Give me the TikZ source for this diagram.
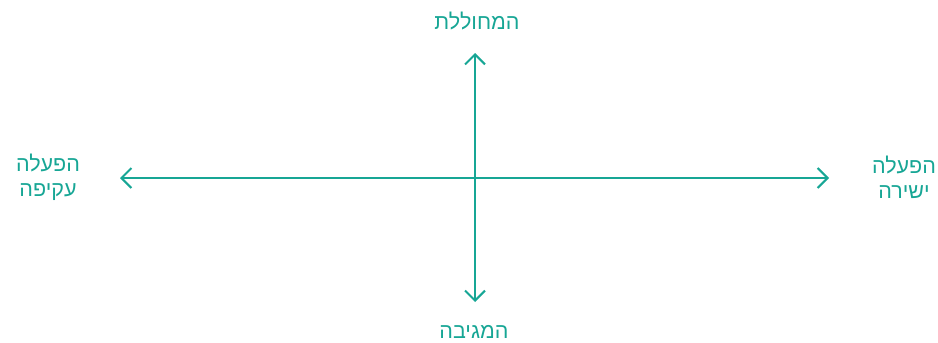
\documentclass[tikz,border=0pt]{standalone}
\usepackage{fontspec}
\usepackage{xcolor}
\usepackage{tikz}
\usetikzlibrary{positioning, arrows.meta}
\TeXXeTstate=1
\newfontfamily\hebfont[Script=Hebrew]{Liberation Sans}
\definecolor{axisteal}{RGB}{23, 166, 149}

\begin{document}
\begin{tikzpicture}[x=1pt, y=-1pt,
    axisline/.style={{Straight Barb[length=10pt, width=20pt]}-{Straight Barb[length=10pt, width=20pt]}, line width=2pt, color=axisteal},
    axislabel/.style={font=\hebfont\fontsize{21.5}{25}\selectfont, color=axisteal, align=center, inner sep=0pt}]

  % Moldura da figura
  \useasboundingbox (0,0) rectangle (938,343);

  % --- Extremidades dos eixos ---
  \coordinate (west) at (120,178);
  \coordinate (east) at (829,178);
  \coordinate (north) at (475,53);
  \coordinate (south) at (475,302);

  % Eixos com setas nas duas pontas
  \draw[axisline] (west) -- (east);
  \draw[axisline] (north) -- (south);

  % Rótulos dos eixos
  \node[axislabel] (top) at (477,21) {\beginR המחוללת\endR};
  \node[axislabel] (bottom) at (474,332) {\beginR המגיבה\endR};
  \node[axislabel] (left) at (48,177) {\beginR הפעלה\endR\\\beginR עקיפה\endR};
  \node[axislabel] (right) at (904,177) {\beginR הפעלה\endR\\\beginR ישירה\endR};

\end{tikzpicture}
\end{document}
